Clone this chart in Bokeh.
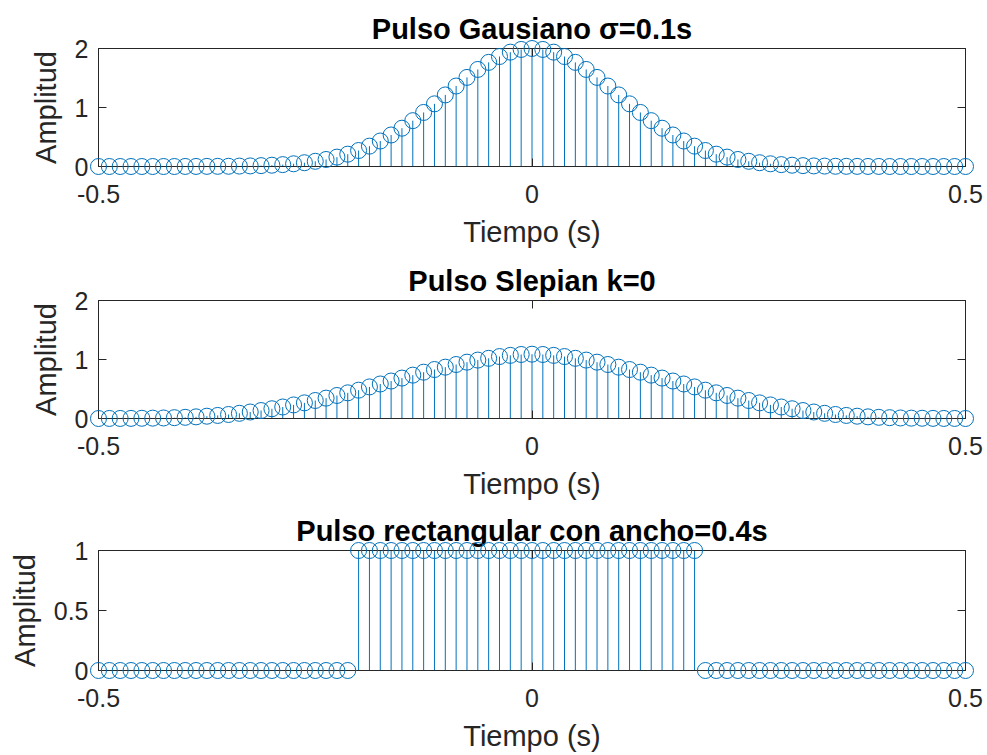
from bokeh.plotting import figure
from bokeh.layouts import column
from bokeh.models import FixedTicker, NumeralTickFormatter, LinearAxis, Range1d
from bokeh.embed import file_html
from bokeh.resources import INLINE

tiempo = [-0.5, -0.4875, -0.475, -0.4625, -0.45, -0.4375, -0.425, -0.4125,
          -0.4, -0.3875, -0.375, -0.3625, -0.35, -0.3375, -0.325, -0.3125,
          -0.3, -0.2875, -0.275, -0.2625, -0.25, -0.2375, -0.225, -0.2125,
          -0.2, -0.1875, -0.175, -0.1625, -0.15, -0.1375, -0.125, -0.1125,
          -0.1, -0.0875, -0.075, -0.0625, -0.05, -0.0375, -0.025, -0.0125,
          0.0,
          0.0125, 0.025, 0.0375, 0.05, 0.0625, 0.075, 0.0875, 0.1,
          0.1125, 0.125, 0.1375, 0.15, 0.1625, 0.175, 0.1875, 0.2,
          0.2125, 0.225, 0.2375, 0.25, 0.2625, 0.275, 0.2875, 0.3,
          0.3125, 0.325, 0.3375, 0.35, 0.3625, 0.375, 0.3875, 0.4,
          0.4125, 0.425, 0.4375, 0.45, 0.4625, 0.475, 0.4875, 0.5]

gauss = [0, 0, 0, 0, 0, 0, 0, 0, 0.001, 0.001, 0.002, 0.003, 0.004, 0.007, 0.010, 0.015,
         0.022, 0.032, 0.046, 0.064, 0.088, 0.119, 0.159, 0.209, 0.271, 0.345, 0.432, 0.534,
         0.649, 0.777, 0.916, 1.062, 1.213, 1.364, 1.510, 1.645, 1.765, 1.864, 1.938, 1.984,
         2.000,
         1.984, 1.938, 1.864, 1.765, 1.645, 1.510, 1.364, 1.213, 1.062, 0.916, 0.777, 0.649,
         0.534, 0.432, 0.345, 0.271, 0.209, 0.159, 0.119, 0.088, 0.064, 0.046, 0.032, 0.022,
         0.015, 0.010, 0.007, 0.004, 0.003, 0.002, 0.001, 0.001, 0, 0, 0, 0, 0, 0, 0, 0]

slepian = [0, 0.001, 0.001, 0.002, 0.004, 0.006, 0.009, 0.014, 0.020, 0.028, 0.039, 0.052,
           0.068, 0.088, 0.110, 0.135, 0.165, 0.195, 0.230, 0.265, 0.305, 0.345, 0.390, 0.435,
           0.480, 0.535, 0.585, 0.635, 0.685, 0.735, 0.785, 0.830, 0.870, 0.915, 0.955, 0.990,
           1.020, 1.050, 1.070, 1.085,
           1.090,
           1.085, 1.070, 1.050, 1.020, 0.990, 0.955, 0.915, 0.870, 0.830, 0.785, 0.735, 0.685,
           0.635, 0.585, 0.535, 0.480, 0.435, 0.390, 0.345, 0.305, 0.265, 0.230, 0.195, 0.165,
           0.135, 0.110, 0.088, 0.068, 0.052, 0.039, 0.028, 0.020, 0.014, 0.009, 0.006, 0.004,
           0.002, 0.001, 0.001, 0]

rectangular = [0] * 24 + [1] * 32 + [0] * 25

titles = ["Pulso Gausiano σ=0.1s", "Pulso Slepian k=0", "Pulso rectangular con ancho=0.4s"]
x_ticks = [-0.5, 0, 0.5]
y_ticks_list = [[0, 1, 2], [0, 1, 2], [0, 0.5, 1]]
y_max_list = [2, 2, 1]
x_label = "Tiempo (s)"
y_label = "Amplitud"

BLUE = "#0072BD"
AX = "#262626"
FONT = "Liberation Sans"


def style_axis(ax, ticks, labels=True, xdir=False):
    ax.ticker = FixedTicker(ticks=ticks)
    ax.formatter = NumeralTickFormatter(format="0.[0]")
    ax.major_tick_in = 8
    ax.major_tick_out = 0
    ax.minor_tick_line_color = None
    ax.axis_line_color = AX
    ax.major_tick_line_color = AX
    if labels:
        ax.major_label_text_font = FONT
        ax.major_label_text_font_size = "25px"
        ax.major_label_text_color = AX
        ax.major_label_standoff = 18 if xdir else 10
        ax.axis_label_text_font = FONT
        ax.axis_label_text_font_size = "29px"
        ax.axis_label_text_font_style = "normal"
        ax.axis_label_text_color = AX
        ax.axis_label_standoff = 10
    else:
        ax.major_label_text_color = None
        ax.major_label_text_font_size = "0px"
        ax.major_label_standoff = 0


def make_fig(title, values, ymax, yticks, height, top, bottom):
    p = figure(width=987, height=height, x_range=Range1d(-0.5, 0.5),
               y_range=Range1d(0, ymax), output_backend="svg",
               toolbar_location=None, min_border_left=98, min_border_right=22,
               min_border_top=top, min_border_bottom=bottom, title=title)
    p.title.text_font = FONT
    p.title.text_font_size = "29px"
    p.title.text_font_style = "bold"
    p.title.text_color = "black"
    p.title.align = "center"
    p.title.standoff = 8
    p.xgrid.visible = False
    p.ygrid.visible = False
    p.outline_line_color = AX
    p.background_fill_color = "white"
    p.border_fill_color = "white"

    style_axis(p.xaxis[0], x_ticks, xdir=True)
    p.xaxis[0].axis_label = x_label
    style_axis(p.yaxis[0], yticks)
    p.yaxis[0].axis_label = y_label

    top_ax = LinearAxis()
    style_axis(top_ax, x_ticks, labels=False)
    p.add_layout(top_ax, "above")
    right_ax = LinearAxis()
    style_axis(right_ax, yticks, labels=False)
    p.add_layout(right_ax, "right")

    zeros = [0] * len(tiempo)
    p.segment(x0=tiempo, y0=zeros, x1=tiempo, y1=values, line_color=BLUE, line_width=1)
    p.scatter(x=tiempo, y=values, marker="circle", size=16, fill_color=None,
              line_color=BLUE, line_width=1, level="overlay")
    return p


p1 = make_fig(titles[0], gauss, y_max_list[0], y_ticks_list[0], 256, 48, 90)
p2 = make_fig(titles[1], slepian, y_max_list[1], y_ticks_list[1], 250, 44, 88)
p3 = make_fig(titles[2], rectangular, y_max_list[2], y_ticks_list[2], 249, 44, 85)

layout = column(p1, p2, p3, spacing=0)
open("out.html", "w").write(file_html(layout, INLINE))
